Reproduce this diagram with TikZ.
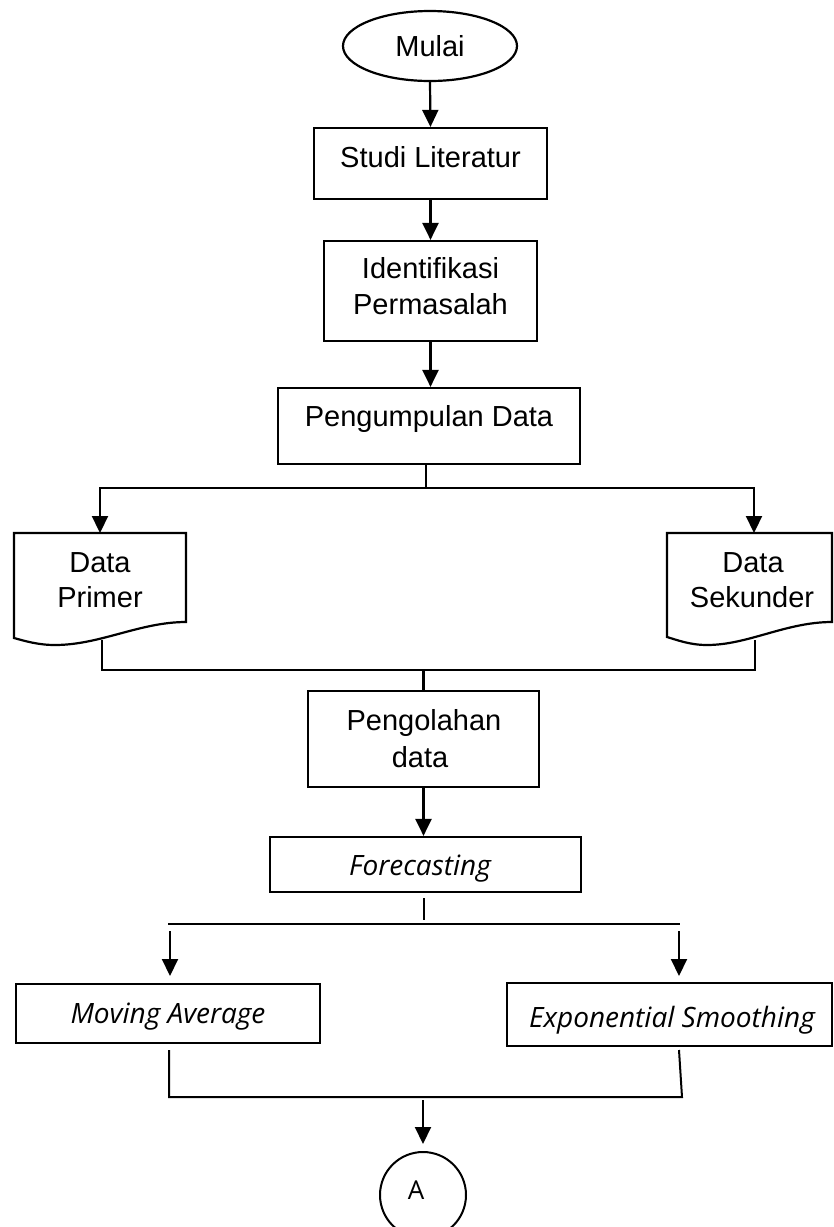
\documentclass[tikz,border=0pt]{standalone}
\usepackage{fontspec}
\setmainfont{Liberation Sans}
\newfontfamily\osans{Open Sans}
\usetikzlibrary{shapes.geometric,arrows.meta}
\begin{document}
\begin{tikzpicture}[x=1pt,y=-1pt,
  ln/.style={line width=2.2pt},
  tln/.style={line width=2pt},
  arr/.style={-{Triangle[length=17pt,width=16pt]}},
  txt/.style={font=\fontsize{29pt}{36pt}\selectfont,inner sep=0pt,anchor=base},
  itxt/.style={font=\osans\itshape\fontsize{28pt}{34pt}\selectfont,inner sep=0pt,anchor=base},
  utxt/.style={font=\osans\fontsize{26pt}{32pt}\selectfont,inner sep=0pt,anchor=base},
  bx/.style={draw,rectangle,inner sep=0pt}]

\useasboundingbox (0,0) rectangle (834,1227);
\clip (0,0) rectangle (834,1227);

% Mulai
\node[bx,ellipse,ln,minimum width=174pt,minimum height=70pt] (mulai) at (430,46) {};
\node[txt] (tmulai) at (430,56) {Mulai};

% Studi Literatur
\node[bx,ln,minimum width=233pt,minimum height=71pt] (studi) at (430.5,163.5) {};
\node[txt] (tstudi) at (430.5,167) {Studi Literatur};

% Identifikasi
\node[bx,ln,minimum width=213pt,minimum height=100pt] (ident) at (430.5,291) {};
\node[txt] (tident1) at (430.5,278) {Identifikasi};
\node[txt] (tident2) at (430.5,314) {Permasalah};

% Pengumpulan Data
\node[bx,ln,minimum width=302pt,minimum height=76pt] (kumpul) at (429,426) {};
\node[txt] (tkumpul) at (429,426) {Pengumpulan Data};

\draw[ln,arr] (mulai.south) -- (studi.north);
\draw[ln,arr] (studi.south) -- (ident.north);
\draw[ln,arr] (ident.south) -- (ident.south |- kumpul.north);

% Data Primer (document)
\draw[ln] (14,533) -- (186,533) -- (186,622)
  .. controls (140,622) and (100,645) .. (55,645)
  .. controls (38,645) and (25,641) .. (14,638) -- cycle;
\coordinate (primert) at (100,533);
\coordinate (primerb) at (102,640);
\node[txt] (tprim1) at (100,572) {Data};
\node[txt] (tprim2) at (100,607) {Primer};

% Data Sekunder (document)
\draw[ln] (667,533) -- (832,533) -- (832,622)
  .. controls (786,622) and (748,645) .. (707,645)
  .. controls (690,645) and (677,640) .. (667,637) -- cycle;
\coordinate (sekt) at (754,533);
\coordinate (sekb) at (755,640);
\node[txt] (tsek1) at (753,572) {Data};
\node[txt] (tsek2) at (752,607) {Sekunder};

% branch from Pengumpulan Data
\coordinate (j1) at (426,488);
\draw[ln] (j1 |- kumpul.south) -- (j1);
\draw[ln,arr] (j1) -| (primert);
\draw[ln,arr] (j1) -| (sekt);

% Pengolahan data
\node[bx,ln,minimum width=231pt,minimum height=96pt] (olah) at (423.5,739) {};
\node[txt] (tolah1) at (424,730) {Pengolahan};
\node[txt] (tolah2) at (420,767) {data};

% merge to Pengolahan
\coordinate (j2) at (102,670);
\coordinate (j3) at (755,670);
\draw[ln] (primerb) -- (j2) -- (j3) -- (sekb);
\draw[ln] (olah.north |- j2) -- (olah.north);

% Forecasting
\node[bx,ln,minimum width=311pt,minimum height=55pt] (fore) at (425.5,864.5) {};
\node[itxt] (tfore) at (420,875) {Forecasting};
\draw[ln,arr] (olah.south) -- (olah.south |- fore.north);

\coordinate (f1) at (424,898);
\coordinate (f2) at (424,920);
\draw[line width=1.5pt] (f1) -- (f2);
\coordinate (h1) at (168,924);
\coordinate (h2) at (680,924);
\draw[tln] (h1) -- (h2);

% Moving Average / Exponential Smoothing
\node[bx,tln,minimum width=304pt,minimum height=59pt] (ma) at (168,1013.5) {};
\node[itxt] (tma) at (168,1023) {Moving Average};
\node[bx,tln,minimum width=325pt,minimum height=63pt] (es) at (669.5,1014.5) {};
\node[itxt] (tes) at (672,1027) {Exponential Smoothing};

\coordinate (a1) at (170,931);
\coordinate (a2) at (679,931);
\draw[tln,arr,shorten >=7pt] (a1) -- (a1 |- ma.north);
\draw[tln,arr,shorten >=6pt] (a2) -- (a2 |- es.north);

% bottom merge
\coordinate (m1) at (169,1050);
\coordinate (m2) at (169,1097);
\coordinate (e1) at (679,1050);
\coordinate (e2) at (682,1097);
\draw[tln] (m1) -- (m2) -- (e2) -- (e1);

% connector A
\node[draw,circle,tln,minimum size=86pt,inner sep=0pt] (conA) at (423,1195) {};
\node[utxt] (tA) at (416,1199) {A};
\coordinate (b1) at (423,1100);
\draw[tln,arr,shorten >=7pt] (b1) -- (conA.north);
\end{tikzpicture}
\end{document}
